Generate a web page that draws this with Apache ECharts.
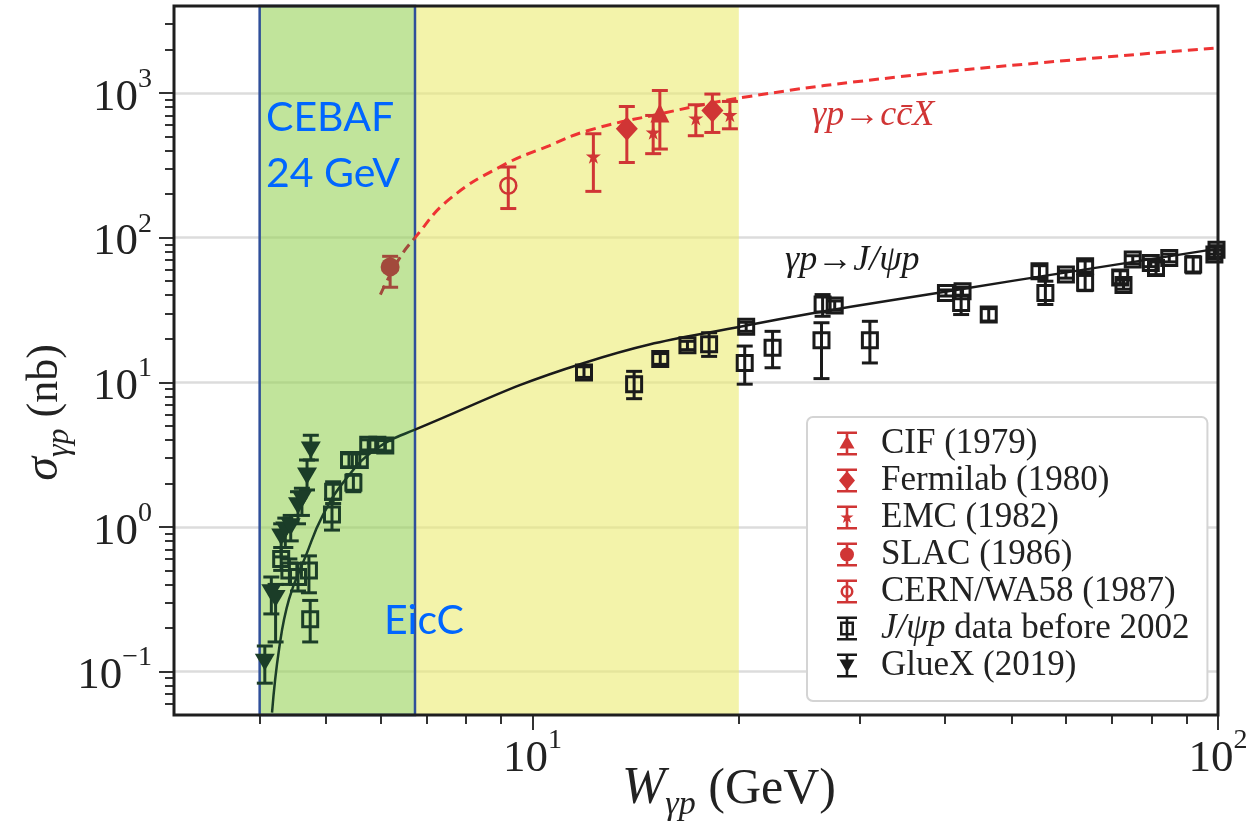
<!DOCTYPE html>
<html>
<head>
<meta charset="utf-8">
<title>J/psi and open charm photoproduction</title>
<script src="https://cdn.jsdelivr.net/npm/echarts@6/dist/echarts.min.js"></script>
<style>
  html, body { margin: 0; padding: 0; background: #fff; }
  #chart { width: 1257px; height: 826px; }
</style>
</head>
<body>
<div id="chart"></div>
<script>
// every data row: [W (GeV), sigma (nb), sigma low, sigma high]
const cif = [[15.34, 728, 410, 1042]];
const fermilab = [[13.73, 567, 331, 807], [18.3, 759, 534, 984]];
const emc = [[12.27, 365, 209, 523], [15.0, 535, 381, 700], [17.31, 671, 507, 830], [19.41, 708, 566, 875]];
const slac = [[6.2, 62.8, 45.4, 74.3]];
const cern = [[9.22, 229, 159, 308]];
const gluex = [
  [4.07, 0.116, 0.083, 0.150], [4.16, 0.35, 0.25, 0.45], [4.22, 0.32, 0.16, 0.40],
  [4.30, 0.85, 0.62, 1.05], [4.36, 0.95, 0.72, 1.15], [4.44, 1.0, 0.80, 1.20],
  [4.55, 1.40, 1.05, 1.75], [4.61, 1.55, 1.20, 1.85], [4.69, 2.25, 1.80, 2.90],
  [4.75, 3.4, 2.9, 4.3]
];
const jpsi = [
  [4.30, 0.60, 0.50, 0.72], [4.42, 0.50, 0.40, 0.60], [4.55, 0.45, 0.36, 0.56],
  [4.72, 0.50, 0.35, 0.63], [4.74, 0.23, 0.16, 0.31], [5.10, 1.22, 0.95, 1.55],
  [5.12, 1.75, 1.45, 2.05], [5.48, 2.02, 1.75, 2.3], [5.40, 2.9, 2.6, 3.2],
  [5.60, 2.9, 2.6, 3.2], [5.76, 3.7, 3.4, 4.0], [5.94, 3.7, 3.4, 4.0],
  [6.10, 3.65, 3.35, 3.95],
  [11.89, 11.7, 10.8, 12.8], [14.07, 9.7, 7.7, 11.9], [15.36, 14.5, 13.3, 15.8],
  [16.83, 18.0, 16.8, 19.2], [18.1, 18.3, 15.1, 22.0], [20.5, 24.2, 22.5, 26.0],
  [20.4, 13.6, 9.7, 17.8], [22.4, 17.3, 12.6, 22.5], [26.4, 19.5, 10.6, 25.8],
  [26.5, 34.5, 28.6, 40.4], [27.6, 33.9, 31.5, 36.5], [31.06, 19.5, 13.6, 26.4],
  [40.1, 41.5, 39.5, 43.5], [42.4, 42.6, 40.0, 45.5], [42.2, 35.4, 29.4, 45.0],
  [46.3, 29.4, 26.5, 32.3], [54.9, 58.5, 53.0, 64.0], [56.0, 41.5, 34.5, 50.0],
  [60.0, 55.6, 52.5, 59.0], [64.0, 63.4, 58.0, 69.0], [64.0, 48.7, 43.0, 55.0],
  [72.0, 53.0, 48.0, 59.0], [72.8, 47.0, 44.0, 51.0], [75.1, 70.5, 66.0, 75.0],
  [79.8, 66.9, 63.0, 71.0], [81.2, 61.8, 55.5, 68.0], [84.9, 72.4, 68.0, 77.0],
  [92.0, 65.2, 57.0, 74.0], [98.8, 76.4, 71.0, 82.0], [99.5, 82.5, 77.0, 88.0]
];

// model curves: [W, sigma]
const jpsiCurve = [
  [4.17, 0.052], [4.27, 0.143], [4.415, 0.316], [4.67, 0.63], [4.94, 1.19],
  [5.34, 2.13], [5.9, 3.43], [6.74, 4.7], [11.89, 13.6],
  [20.5, 24.7], [41.9, 43.8], [100, 84]
];
const ccbarCurve = [
  [6.0, 40.4], [6.38, 70.5], [6.74, 100], [7.55, 183], [9.04, 315], [10.57, 432],
  [12.03, 549], [15.14, 708], [20.7, 947], [34.3, 1297], [55, 1618], [100, 2056]
];

// shaded kinematic ranges: [from W, to W]
const bands = [[4, 6.74], [6.74, 20]];
const eiccEdge = 6.74;

const xMajorTicks = [10, 100];
const xMinorTicks = [4, 5, 6, 7, 8, 9, 20, 30, 40, 50, 60, 70, 80, 90];
const yMajorTicks = [0.1, 1, 10, 100, 1000];
const yMinorTicks = [0.06, 0.07, 0.08, 0.09, 0.2, 0.3, 0.4, 0.5, 0.6, 0.7, 0.8, 0.9,
  2, 3, 4, 5, 6, 7, 8, 9, 20, 30, 40, 50, 60, 70, 80, 90,
  200, 300, 400, 500, 600, 700, 800, 900, 2000, 3000];

const serif = 'Liberation Serif';
const red = '#d03535';
const dashRed = '#ee3333';
const black = '#1a1a1a';
const darkGreen = '#1b3d28';
const brown = '#a24a3c';
const jpsiName = 'J/ψp data before 2002';

const inBand = (rows) => rows.filter((r) => r[0] <= eiccEdge);
const outBand = (rows) => rows.filter((r) => r[0] > eiccEdge);

const chart = echarts.init(document.getElementById('chart'));

function errorBars(name, data, color) {
  return {
    type: 'custom',
    name: `${name} err`,
    data,
    z: 4,
    silent: true,
    encode: { x: 0, y: [2, 3] },
    renderItem(params, api) {
      const top = api.coord([api.value(0), api.value(3)]);
      const bot = api.coord([api.value(0), api.value(2)]);
      const cap = 8;
      const style = { stroke: color, lineWidth: 3 };
      return {
        type: 'group',
        children: [
          { type: 'line', shape: { x1: top[0], y1: top[1], x2: bot[0], y2: bot[1] }, style },
          { type: 'line', shape: { x1: top[0] - cap, y1: top[1], x2: top[0] + cap, y2: top[1] }, style },
          { type: 'line', shape: { x1: bot[0] - cap, y1: bot[1], x2: bot[0] + cap, y2: bot[1] }, style },
        ],
      };
    },
  };
}

function markers(name, data, symbol, size, itemStyle, extra) {
  return Object.assign({
    type: 'scatter',
    name,
    data,
    symbol,
    symbolSize: size,
    itemStyle: Object.assign({ opacity: 1 }, itemStyle),
    z: 5,
    silent: true,
    encode: { x: 0, y: 1 },
  }, extra || {});
}

function curve(data, color, dashed) {
  return {
    type: 'line',
    data,
    smooth: 0.45,
    showSymbol: false,
    silent: true,
    z: 3,
    lineStyle: { color, width: dashed ? 3 : 2.5, type: dashed ? [10, 6] : 'solid' },
  };
}

const starPath = 'path://M50,0L61,35L98,35L68,57L79,91L50,70L21,91L32,57L2,35L39,35Z';
const bar = 'M0,0H20V2.6H0Z M8.7,0H11.3V24H8.7Z M0,21.4H20V24H0Z ';
const icons = {
  tri: `path://${bar}M10,4L17.5,17H2.5Z`,
  diamond: `path://${bar}M10,2.5L18,12L10,21.5L2,12Z`,
  star: `path://${bar}M10,5.5L11.8,10H16.5L12.7,12.8L14.1,17.5L10,14.6L5.9,17.5L7.3,12.8L3.5,10H8.2Z`,
  circle: `path://${bar}M3,12A7,7 0 1,1 17,12A7,7 0 1,1 3,12Z`,
  ring: `path://${bar}M3.5,12A6.5,6.5 0 1,1 16.5,12A6.5,6.5 0 1,1 3.5,12Z M6,12A4,4 0 1,0 14,12A4,4 0 1,0 6,12Z`,
  square: `path://${bar}M3,5H17V19H3Z M5.5,7.5V16.5H14.5V7.5Z`,
  down: `path://${bar}M2.5,6H17.5L10,19Z`,
};

function powLabel(v) {
  const e = Math.round(Math.log10(v));
  return `{b|10}{e|${e < 0 ? '−' + (-e) : e}}`;
}
const powRich = {
  b: { fontFamily: serif, fontSize: 45, color: '#222', verticalAlign: 'top', padding: [10, 0, 0, 0] },
  e: { fontFamily: serif, fontSize: 28, color: '#222', verticalAlign: 'top' },
};

const option = {
  animation: false,
  grid: {
    left: 174, right: 39, top: 6, bottom: 111,
    outerBoundsMode: 'none',
    containLabel: false,
    show: true, z: 10, backgroundColor: 'transparent',
    borderColor: '#1e1e1e', borderWidth: 3,
  },
  xAxis: [{
    type: 'log', min: 3, max: 100, position: 'bottom',
    axisLine: { show: false },
    splitLine: { show: false },
    axisTick: { customValues: xMajorTicks, length: 15, lineStyle: { color: '#333', width: 2 } },
    axisLabel: { customValues: xMajorTicks, formatter: powLabel, rich: powRich, margin: 12 },
    name: '{w|W}{s|γp}{n| (GeV)}',
    nameLocation: 'middle',
    nameGap: 48,
    nameMoveOverlap: false,
    nameTextStyle: {
      padding: [0, 0, 0, 66],
      rich: {
        w: { fontFamily: serif, fontSize: 52, fontStyle: 'italic', color: '#222', verticalAlign: 'top' },
        s: { fontFamily: serif, fontSize: 34, fontStyle: 'italic', color: '#222', verticalAlign: 'top', padding: [25, 0, 0, 0] },
        n: { fontFamily: serif, fontSize: 50, color: '#222', verticalAlign: 'top', padding: [2, 0, 0, 0] },
      },
    },
  }, {
    type: 'log', min: 3, max: 100, position: 'bottom',
    axisLine: { show: false },
    splitLine: { show: false },
    axisLabel: { show: false },
    axisTick: { customValues: xMinorTicks, length: 9, lineStyle: { color: '#333', width: 2 } },
  }],
  yAxis: [{
    type: 'log', min: 0.05, max: 4000, position: 'left',
    axisLine: { show: false },
    splitLine: { show: true, lineStyle: { color: '#dcdcdc', width: 2.5 } },
    axisTick: { customValues: yMajorTicks, length: 15, lineStyle: { color: '#333', width: 2 } },
    axisLabel: { customValues: yMajorTicks, formatter: powLabel, rich: powRich, margin: 22 },
    name: '{s|σ}{sub|γp}{n| (nb)}',
    nameLocation: 'middle',
    nameRotate: 90,
    nameGap: 98,
    nameMoveOverlap: false,
    nameTextStyle: {
      padding: [0, 104, 0, 0],
      rich: {
        s: { fontFamily: serif, fontSize: 48, fontStyle: 'italic', color: '#222', verticalAlign: 'top' },
        sub: { fontFamily: serif, fontSize: 32, fontStyle: 'italic', color: '#222', verticalAlign: 'top', padding: [24, 0, 0, 0] },
        n: { fontFamily: serif, fontSize: 44, color: '#222', verticalAlign: 'top', padding: [3, 0, 0, 0] },
      },
    },
  }, {
    type: 'log', min: 0.05, max: 4000, position: 'left',
    axisLine: { show: false },
    splitLine: { show: false },
    axisLabel: { show: false },
    axisTick: { customValues: yMinorTicks, length: 9, lineStyle: { color: '#333', width: 2 } },
  }],
  legend: {
    orient: 'vertical',
    left: 807,
    top: 417,
    z: 20,
    padding: [9, 18, 18, 30],
    itemWidth: 20,
    itemHeight: 24,
    itemGap: 2,
    backgroundColor: '#fff',
    borderColor: '#d4d4d4',
    borderWidth: 2,
    borderRadius: 6,
    selectedMode: false,
    itemStyle: { borderWidth: 0, opacity: 1 },
    textStyle: {
      fontFamily: serif, fontSize: 35, color: '#222', lineHeight: 35, padding: [0, 0, 0, 19],
      rich: { i: { fontFamily: serif, fontSize: 35, fontStyle: 'italic', color: '#222' } },
    },
    formatter: (n) => (n === jpsiName ? '{i|J/ψp} data before 2002' : n),
    data: [
      { name: 'CIF (1979)', icon: icons.tri, itemStyle: { color: red } },
      { name: 'Fermilab (1980)', icon: icons.diamond, itemStyle: { color: red } },
      { name: 'EMC (1982)', icon: icons.star, itemStyle: { color: red } },
      { name: 'SLAC (1986)', icon: icons.circle, itemStyle: { color: red } },
      { name: 'CERN/WA58 (1987)', icon: icons.ring, itemStyle: { color: red } },
      { name: jpsiName, icon: icons.square, itemStyle: { color: black } },
      { name: 'GlueX (2019)', icon: icons.down, itemStyle: { color: black } },
    ],
  },
  graphic: [
    { type: 'text', left: 266, top: 90, z: 30, style: { text: 'CEBAF\n24 GeV', font: '41px Lato', fill: '#0066ff', lineHeight: 56 } },
    { type: 'text', left: 384, top: 600, z: 30, style: { text: 'EicC', font: '41px Lato', fill: '#0066ff' } },
    { type: 'text', left: 812, top: 98, z: 30, style: { text: 'γp→cc̄X', font: 'italic 36px "Liberation Serif"', fill: red } },
    { type: 'text', left: 785, top: 243, z: 30, style: { text: 'γp→J/ψp', font: 'italic 36px "Liberation Serif"', fill: black } },
  ],
  series: [
    {
      type: 'custom',
      name: 'bands',
      data: bands,
      z: 1,
      silent: true,
      encode: { x: [0, 1] },
      renderItem(params, api) {
        const cs = params.coordSys;
        const x0 = api.coord([api.value(0), 1])[0];
        const x1 = api.coord([api.value(1), 1])[0];
        const first = params.dataIndex === 0;
        return {
          type: 'rect',
          shape: { x: x0, y: cs.y, width: x1 - x0, height: cs.height },
          style: first
            ? { fill: 'rgba(152,210,88,0.6)', stroke: '#2f4f9a', lineWidth: 2.5 }
            : { fill: 'rgba(235,235,113,0.6)' },
          z2: first ? 1 : 0,
        };
      },
    },
    curve(jpsiCurve, black, false),
    curve(ccbarCurve, dashRed, true),

    errorBars('CIF (1979)', cif, red),
    errorBars('Fermilab (1980)', fermilab, red),
    errorBars('EMC (1982)', emc, red),
    errorBars('SLAC (1986)', slac, brown),
    errorBars('CERN/WA58 (1987)', cern, red),
    errorBars('jpsi out', outBand(jpsi), black),
    errorBars('jpsi in', inBand(jpsi), darkGreen),
    errorBars('GlueX (2019)', gluex, darkGreen),

    markers('CIF (1979)', cif, 'triangle', 19, { color: red }),
    markers('Fermilab (1980)', fermilab, 'diamond', [22, 24], { color: red }),
    markers('EMC (1982)', emc, starPath, 15, { color: red }),
    markers('SLAC (1986)', slac, 'circle', 19, { color: brown }),
    markers('CERN/WA58 (1987)', cern, 'circle', 16, { color: 'rgba(0,0,0,0)', borderColor: red, borderWidth: 2.5 }),
    markers(jpsiName, outBand(jpsi), 'rect', 15, { color: 'rgba(0,0,0,0)', borderColor: black, borderWidth: 3 }),
    markers(jpsiName, inBand(jpsi), 'rect', 15, { color: 'rgba(0,0,0,0)', borderColor: darkGreen, borderWidth: 3 }),
    markers('GlueX (2019)', gluex, 'triangle', [20, 17], { color: darkGreen }, { symbolRotate: 180 }),
  ],
};

chart.setOption(option);

// tint the model curves where they run inside the EicC band
const edgeX = chart.convertToPixel({ xAxisIndex: 0 }, eiccEdge);
const width = chart.getWidth();
function splitColor(inside, outside) {
  const f = edgeX / width;
  return new echarts.graphic.LinearGradient(0, 0, width, 0, [
    { offset: 0, color: inside }, { offset: f, color: inside },
    { offset: f, color: outside }, { offset: 1, color: outside },
  ], true);
}
chart.setOption({
  series: [
    {},
    { lineStyle: { color: splitColor(darkGreen, black) } },
    { lineStyle: { color: splitColor(brown, dashRed) } },
  ],
});
</script>
</body>
</html>
